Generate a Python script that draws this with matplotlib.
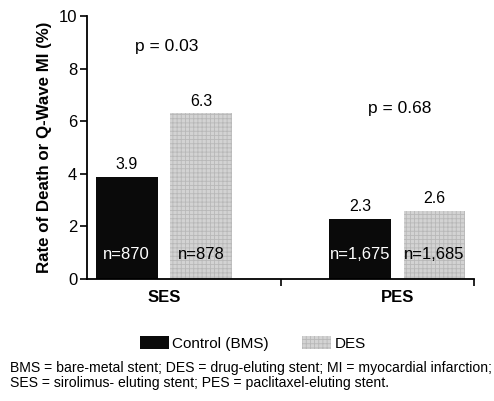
import matplotlib
matplotlib.use("Agg")
import matplotlib.pyplot as plt
import matplotlib.patches as mpatches
import numpy as np

plt.rcParams["font.family"] = ["Liberation Sans", "DejaVu Sans"]
plt.rcParams["hatch.linewidth"] = 0.6

groups = ["SES", "PES"]
control = [3.9, 2.3]
des = [6.3, 2.6]
n_control = ["n=870", "n=1,675"]
n_des = ["n=878", "n=1,685"]
p_values = ["p = 0.03", "p = 0.68"]
p_y = [8.85, 6.5]

BLACK = "#0a0a0a"
GRAY = "#d3d3d3"
HATCH = "#b8b8b8"

fig = plt.figure(figsize=(4.94, 4.01), dpi=100)
ax = fig.add_axes([0.176, 0.304, 0.784, 0.656])

x = np.array([0.0, 1.0])
off, w = 0.16, 0.265
b1 = ax.bar(x - off, control, width=w, color=BLACK, linewidth=0)
b2 = ax.bar(x + off, des, width=w, color=GRAY, edgecolor=HATCH, hatch="++++", linewidth=0)

for bars, vals, ns, tc in [(b1, control, n_control, "white"), (b2, des, n_des, "black")]:
    for bar, v, n in zip(bars, vals, ns):
        cx = bar.get_x() + bar.get_width() / 2
        ax.text(cx, v + 0.17, f"{v:.1f}", ha="center", va="bottom", fontsize=11.5)
        ax.text(cx, 0.92, n, ha="center", va="center", fontsize=12, color=tc)

for xi, p, py in zip(x, p_values, p_y):
    ax.text(xi + 0.01, py, p, ha="center", va="center", fontsize=12.5)

ax.set_xlim(-0.33, 1.33)
ax.set_ylim(0, 10)
ax.set_yticks(np.arange(0, 11, 2))
ax.set_xticks([0.5, 1.33])
ax.set_xticklabels([])
ax.tick_params(axis="both", direction="out", length=5, width=1.2, labelsize=12, pad=2)
for xi, g in zip(x, groups):
    ax.text(xi, -0.42, g, ha="center", va="top", fontsize=12, fontweight="bold")
ax.spines["top"].set_visible(False)
ax.spines["right"].set_visible(False)
ax.spines["left"].set_linewidth(1.3)
ax.spines["bottom"].set_linewidth(1.3)
ax.set_ylabel("Rate of Death or Q-Wave MI (%)", fontsize=12.2, fontweight="bold", labelpad=5)

handles = [
    mpatches.Patch(facecolor=BLACK, label="Control (BMS)"),
    mpatches.Patch(facecolor=GRAY, edgecolor=HATCH, hatch="++++", linewidth=0, label="DES"),
]
fig.legend(handles=handles, loc="center", bbox_to_anchor=(0.512, 0.143), ncol=2,
           frameon=False, fontsize=11, handlelength=1.9, handleheight=0.9,
           columnspacing=2.2, handletextpad=0.2)

fig.text(0.02, 0.083, "BMS = bare-metal stent; DES = drug-eluting stent; MI = myocardial infarction;",
         fontsize=10.1, va="center")
fig.text(0.02, 0.046, "SES = sirolimus- eluting stent; PES = paclitaxel-eluting stent.",
         fontsize=10.1, va="center")

fig.savefig("out.png", dpi=100, facecolor="white")
